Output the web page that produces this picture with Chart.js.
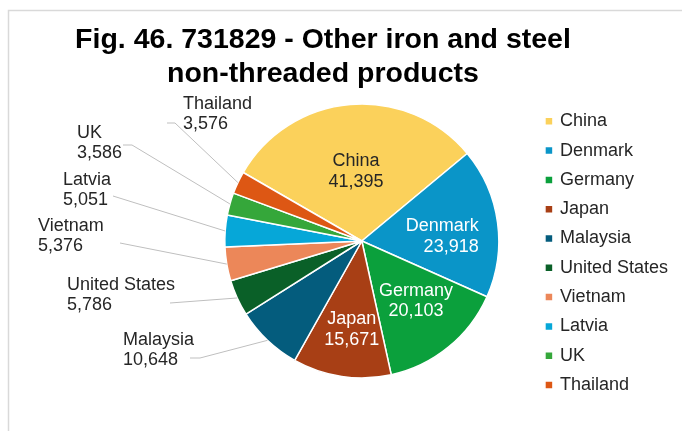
<!DOCTYPE html>
<html>
<head>
<meta charset="utf-8">
<script src="https://cdn.jsdelivr.net/npm/chart.js@4/dist/chart.umd.min.js"></script>
<style>
  html, body { margin: 0; padding: 0; background: #fff; }
  #wrap { width: 682px; height: 431px; }
</style>
</head>
<body>
<div id="wrap"><canvas id="pieChart"></canvas></div>
<script>
var countries = ['China', 'Denmark', 'Germany', 'Japan', 'Malaysia', 'United States', 'Vietnam', 'Latvia', 'UK', 'Thailand'];
var imports = [41395, 23918, 20103, 15671, 10648, 5786, 5376, 5051, 3586, 3576];
var sliceColors = ['#FBD15B', '#0A95C8', '#0BA03C', '#A83F15', '#045C7D', '#0A6028', '#EC8759', '#06A7D8', '#35A73A', '#DD5714'];
var titleLines = ['Fig. 46. 731829 - Other iron and steel', 'non-threaded products'];

var FONT = '"Liberation Sans", Arial, sans-serif';
Chart.defaults.font.family = FONT;

// labels sitting on the big slices: nudge from the slice centre point
var innerLabels = {
  0: { dx: 0,  dy: -1, color: '#262626' },
  1: { dx: 49, dy: 5,  color: '#ffffff', align: 'right' },
  2: { dx: 11, dy: 7,  color: '#ffffff' },
  3: { dx: 0,  dy: 21, color: '#ffffff' }
};

// labels outside the pie: text position and where the leader line starts
var outerLabels = {
  4: { x: 123, y: 340, lx: 190, ly: 358, bx: 200 },
  5: { x: 67,  y: 285, lx: 170, ly: 303 },
  6: { x: 38,  y: 226, lx: 120, ly: 243 },
  7: { x: 63,  y: 180, lx: 113, ly: 196 },
  8: { x: 77,  y: 133, lx: 123, ly: 145, bx: 132 },
  9: { x: 183, y: 104, lx: 167, ly: 123, bx: 175 }
};
var LINE_GAP = 20.5;

const chartFrame = {
  id: 'chartFrame',
  beforeDraw(chart) {
    const ctx = chart.ctx;
    ctx.save();
    ctx.strokeStyle = '#d9d9d9';
    ctx.lineWidth = 1.5;
    ctx.beginPath();
    ctx.moveTo(8.5, 431);
    ctx.lineTo(8.5, 10.5);
    ctx.lineTo(682, 10.5);
    ctx.stroke();
    ctx.restore();
  }
};

const figTitle = {
  id: 'figTitle',
  afterDraw(chart) {
    const ctx = chart.ctx;
    ctx.save();
    ctx.fillStyle = '#000';
    ctx.font = 'bold 28.5px ' + FONT;
    ctx.textAlign = 'center';
    ctx.textBaseline = 'alphabetic';
    ctx.fillText(titleLines[0], 323, 48);
    ctx.fillText(titleLines[1], 323, 82);
    ctx.restore();
  }
};

const sliceLabels = {
  id: 'sliceLabels',
  afterDatasetsDraw(chart) {
    const ctx = chart.ctx;
    const meta = chart.getDatasetMeta(0);
    ctx.save();
    ctx.font = '18px ' + FONT;
    ctx.textBaseline = 'middle';
    meta.data.forEach(function (arc, i) {
      const name = chart.data.labels[i];
      const value = imports[i].toLocaleString('en-US');
      const p = arc.getProps(['x', 'y', 'startAngle', 'endAngle', 'outerRadius'], true);
      const mid = (p.startAngle + p.endAngle) / 2;

      if (innerLabels[i]) {
        const o = innerLabels[i];
        const c = arc.getCenterPoint(true);
        let x = c.x + o.dx;
        const y = c.y + o.dy;
        ctx.fillStyle = o.color;
        ctx.textAlign = o.align || 'center';
        ctx.fillText(name, x, y - LINE_GAP / 2);
        ctx.fillText(value, x, y + LINE_GAP / 2);
      } else if (outerLabels[i]) {
        const o = outerLabels[i];
        const ex = p.x + Math.cos(mid) * p.outerRadius;
        const ey = p.y + Math.sin(mid) * p.outerRadius;
        ctx.strokeStyle = '#bfbfbf';
        ctx.lineWidth = 1;
        ctx.beginPath();
        ctx.moveTo(o.lx, o.ly);
        if (o.bx) ctx.lineTo(o.bx, o.ly);
        ctx.lineTo(ex, ey);
        ctx.stroke();
        ctx.fillStyle = '#262626';
        ctx.textAlign = 'left';
        ctx.fillText(name, o.x, o.y);
        ctx.fillText(value, o.x, o.y + LINE_GAP);
      }
    });
    ctx.restore();
  }
};

const pieCtx = document.getElementById('pieChart').getContext('2d');

const pieChart = new Chart(pieCtx, {
  type: 'pie',
  plugins: [chartFrame, figTitle, sliceLabels],
  data: {
    labels: countries,
    datasets: [
      {
        data: imports,
        backgroundColor: sliceColors,
        borderColor: '#ffffff',
        borderWidth: 1.5
      }
    ]
  },
  options: {
    responsive: true,
    maintainAspectRatio: false,
    animation: false,
    rotation: 300,
    radius: 137,
    layout: {
      padding: { left: 188, right: 4, top: 60, bottom: 9 }
    },
    plugins: {
      title: { display: false },
      tooltip: { enabled: false },
      legend: {
        position: 'right',
        align: 'start',
        title: {
          display: true,
          text: '',
          font: { size: 10 },
          padding: { top: 29, bottom: 0 }
        },
        labels: {
          usePointStyle: true,
          pointStyle: 'rect',
          boxWidth: 4,
          boxHeight: 8,
          padding: 11.3,
          color: '#262626',
          font: { size: 18 }
        }
      }
    }
  }
});
</script>
</body>
</html>
